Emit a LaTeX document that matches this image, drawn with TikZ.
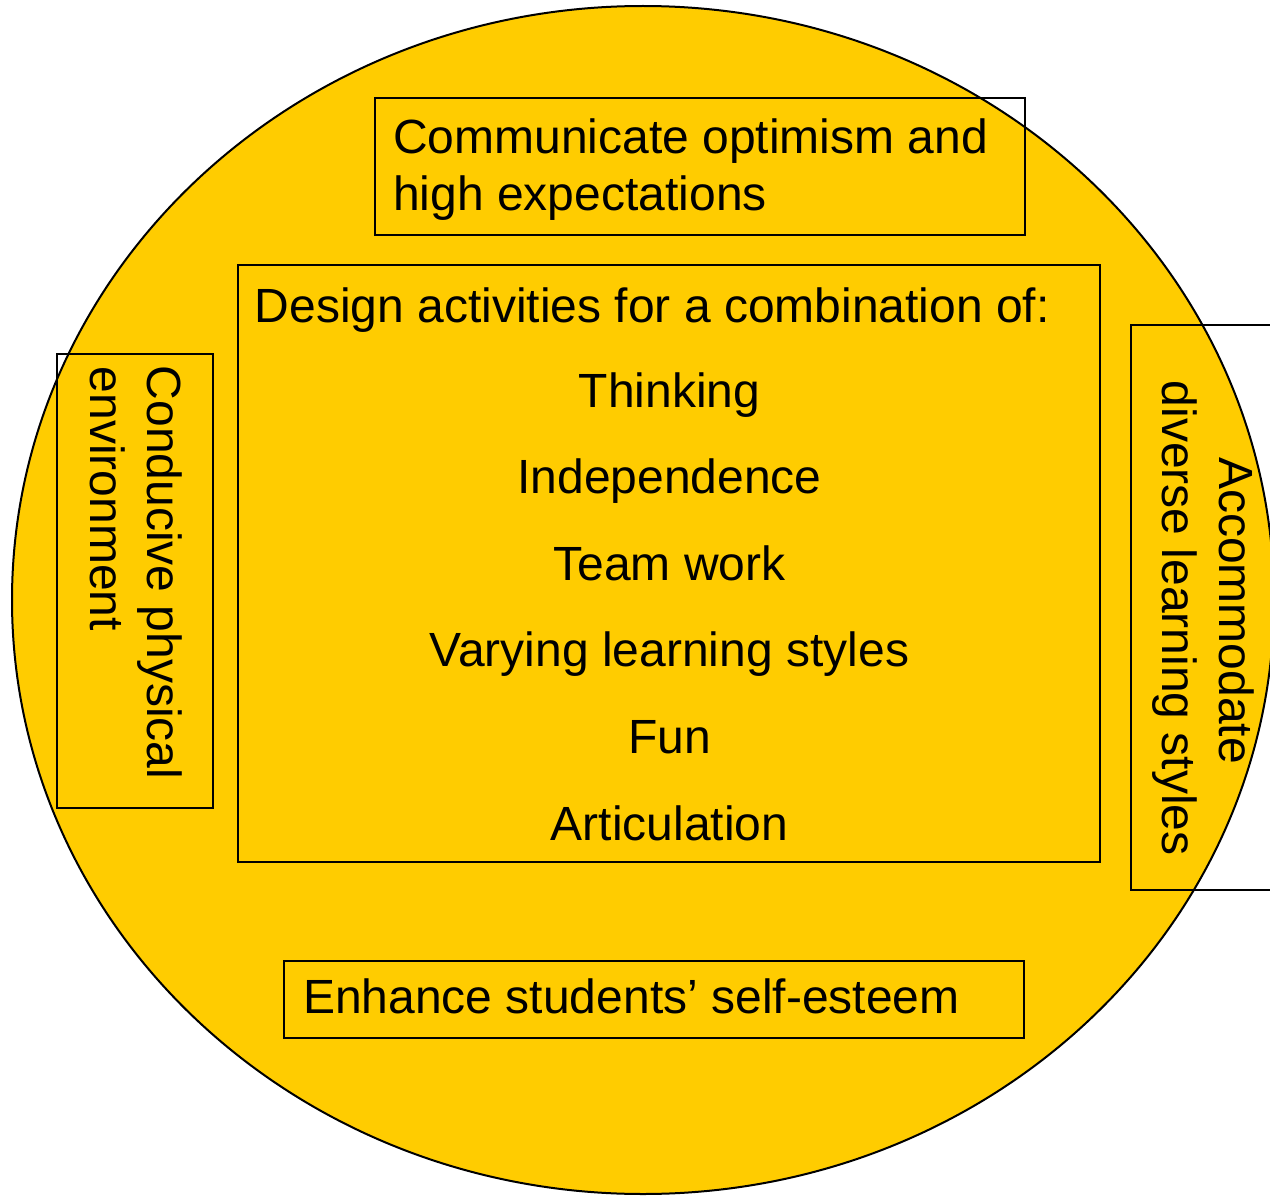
\documentclass[tikz,border=0pt]{standalone}
\usepackage{fontspec}
\setmainfont{Liberation Sans}
\definecolor{gold}{HTML}{FFCC00}
\begin{document}
\begin{tikzpicture}[x=1pt,y=-1pt,
  frame/.style={draw=black,line width=2.2pt},
  txt/.style={font=\fontsize{48}{57}\selectfont,inner sep=0pt,anchor=base west},
  ctxt/.style={font=\fontsize{48}{57}\selectfont,inner sep=0pt,anchor=base},
  vtxt/.style={txt,rotate=-90}]
\useasboundingbox (0,0) rectangle (1270,1196);
% big yellow ellipse
\draw[fill=gold,line width=2pt] (643,600) ellipse [x radius=631, y radius=594];
% boxes
\draw[frame] (375,98) rectangle (1025,235);
\draw[frame] (238,265) rectangle (1100,862);
\draw[frame] (57,354) rectangle (213,808);
\draw[frame] (1300,325) -- (1131,325) -- (1131,890) -- (1300,890);
\draw[frame] (284,961) rectangle (1024,1038);
% top box text
\node[txt] (t1) at (393,154) {Communicate optimism and};
\node[txt] (t2) at (393,211) {high expectations};
% central box text
\node[txt] (d0) at (254.5,322) {Design activities for a combination of:};
\node[ctxt] (d1) at (669.5,407) {Thinking};
\node[ctxt] (d2) at (669.5,493.6) {Independence};
\node[ctxt] (d3) at (669.5,580.2) {Team work};
\node[ctxt] (d4) at (669.5,666.8) {Varying learning styles};
\node[ctxt] (d5) at (669.5,753.4) {Fun};
\node[ctxt] (d6) at (669.5,840) {Articulation};
% left box text
\node[vtxt] (l1) at (147,365.5) {Conducive physical};
\node[vtxt] (l2) at (90,366.5) {environment};
% right box text
\node[vtxt] (r1) at (1219,457) {Accommodate};
\node[vtxt] (r2) at (1162,380.5) {diverse learning styles};
% bottom box text
\node[txt] (b1) at (303,1013) {Enhance students’ self-esteem};
\end{tikzpicture}
\end{document}
